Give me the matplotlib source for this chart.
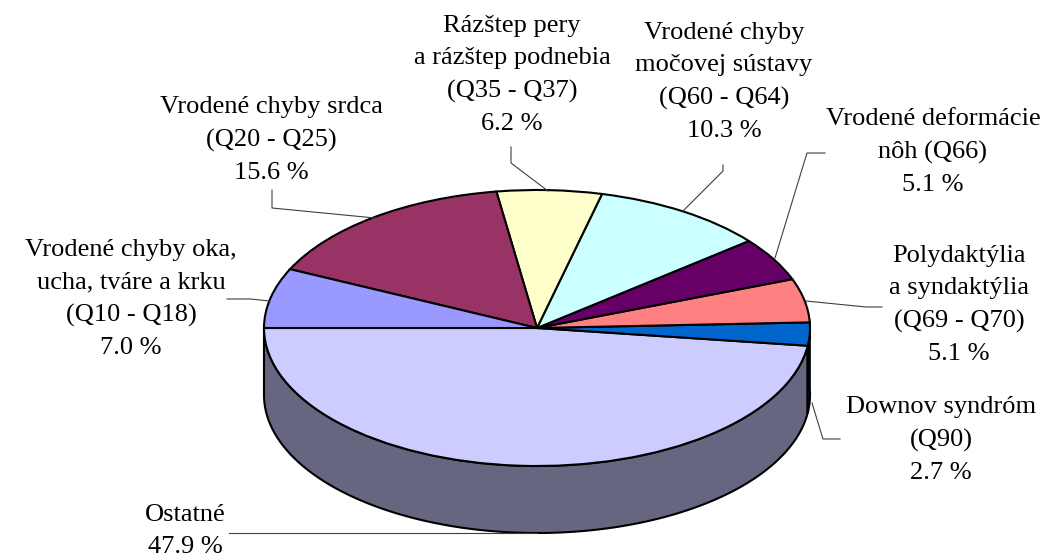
"""Exploded-look 3D pie of congenital anomaly shares, flat pie plus a side wall."""
import matplotlib
matplotlib.use("Agg")
import matplotlib.pyplot as plt
import numpy as np

W, H = 1044, 560
CX, CY, RX, RY = 537, 328, 273, 138
DEPTH = 67 / RY

values = [47.9, 2.7, 5.1, 5.1, 10.3, 6.2, 15.6, 7.0]
top_colors = ["#CCCCFF", "#0066CC", "#FF8080", "#660066",
              "#CCFFFF", "#FFFFCC", "#993366", "#9999FF"]
side_colors = ["#666680", "#003366"]
labels = [
    "Ostatné\n47.9 %",
    "Downov syndróm\n(Q90)\n2.7 %",
    "Polydaktýlia\na syndaktýlia\n(Q69 - Q70)\n5.1 %",
    "Vrodené deformácie\nnôh (Q66)\n5.1 %",
    "Vrodené chyby\nmočovej sústavy\n(Q60 - Q64)\n10.3 %",
    "Rázštep pery\na rázštep podnebia\n(Q35 - Q37)\n6.2 %",
    "Vrodené chyby srdca\n(Q20 - Q25)\n15.6 %",
    "Vrodené chyby oka,\nucha, tváre a krku\n(Q10 - Q18)\n7.0 %",
]
# label centre in reference pixels
label_pos = [(185, 531), (941, 440), (959, 305), (933, 152),
             (724, 82), (512, 75), (271, 140), (131, 299)]
leaders = [
    [(229, 533), (537, 533)],
    [(840, 439), (823, 439), (812, 403)],
    [(882, 307), (866, 307), (806, 301)],
    [(825, 153), (807, 153), (775, 258)],
    [(723, 165), (723, 171), (683, 211)],
    [(511, 147), (511, 163), (548, 191)],
    [(272, 190), (272, 208), (375, 218)],
    [(227, 299), (250, 299), (270, 301)],
]


def px(x, y):
    return (x - CX) / RX, (CY - y) / RY


fig = plt.figure(figsize=(W / 100, H / 100), dpi=100)
ax = fig.add_axes([0, 0, 1, 1])

# side wall, only the front half shows
edges = 180 + np.cumsum([0] + values) * 3.6
for i, color in enumerate(side_colors):
    theta = np.radians(np.linspace(edges[i], edges[i + 1], 200))
    x = np.cos(theta)
    y = np.sin(theta)
    ax.fill(np.r_[x, x[::-1]], np.r_[y, y[::-1] - DEPTH],
            facecolor=color, edgecolor="black", lw=1.5, zorder=1)

wedges, _ = ax.pie(values, colors=top_colors, startangle=180, counterclock=True,
                   wedgeprops=dict(edgecolor="black", linewidth=1.5, zorder=2))

ax.set_aspect("auto")
ax.set_xlim(px(0, 0)[0], px(W, 0)[0])
ax.set_ylim(px(0, H)[1], px(0, 0)[1])
ax.axis("off")

for pts in leaders:
    xs, ys = zip(*[px(*p) for p in pts])
    ax.plot(xs, ys, color="#404040", lw=0.8, zorder=3, clip_on=False)

for text, pos in zip(labels, label_pos):
    ax.text(*px(*pos), text, family="Liberation Serif", fontsize=19,
            ha="center", va="center", linespacing=1.58, color="black", zorder=4)

fig.savefig("out.png", dpi=100, facecolor="white")
